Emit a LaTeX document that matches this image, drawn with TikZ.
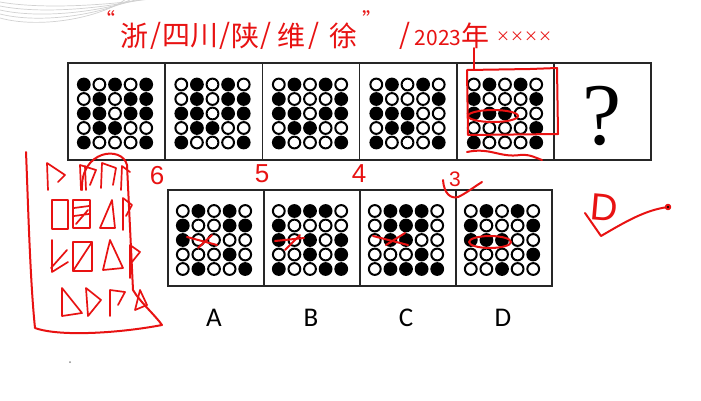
\documentclass[tikz,border=0pt]{standalone}
\usepackage{fontspec}
\usepackage{graphicx}
\setmainfont{Carlito}
\newfontfamily\cjk{Noto Sans CJK SC}
\newfontfamily\qfont{Liberation Serif}
\newfontfamily\hsans{Liberation Sans}
\definecolor{ink}{RGB}{232,18,18}
\newcommand\dotgrid[3]{%
  \foreach \rowlist [count=\r] in {#3}{%
    \foreach \v [count=\c] in \rowlist {%
      \ifnum\v=1
        \fill[black] (#1+\c*15.6-46.8, #2+\r*14.5-43.5) circle[radius=6.9pt];
      \else
        \draw[black,line width=2pt] (#1+\c*15.6-46.8, #2+\r*14.5-43.5) circle[radius=5.9pt];
      \fi
    }%
  }%
}
\tikzset{
  cell/.style={draw=black!85,line width=1.6pt,minimum width=97.2pt,minimum height=97pt,inner sep=0pt},
  cellb/.style={draw=black!85,line width=1.6pt,minimum width=96pt,minimum height=96pt,inner sep=0pt},
  optlabel/.style={font=\fontsize{27}{27}\selectfont,inner sep=0pt},
  ink/.style={draw=ink,line width=2pt,line cap=round,line join=round},
  thinink/.style={draw=ink,line width=1.7pt,line cap=round,line join=round},
  hw/.style={text=ink,inner sep=0pt,font=\cjk\fontsize{28}{28}\selectfont},
  hnum/.style={text=ink,inner sep=0pt,font=\hsans\fontsize{26}{26}\selectfont},
}
\begin{document}
\begin{tikzpicture}[x=1pt,y=-1pt]
\useasboundingbox (0,0) rectangle (701,400);
\fill[white] (0,0) rectangle (701,400);
% faint page-curl arcs
\foreach \k in {0,1,2,3,4}{
  \draw[black!18,line width=0.7pt] (0,2+\k*4) .. controls (40,9+\k*5) and (100,6+\k*3) .. (150-\k*6,-1);
}
\fill[black!45] (70,362) circle[radius=1pt];
% top row
\node[cell] (t1) at (116.6,111.5) {};
\node[cell] (t2) at (213.8,111.5) {};
\node[cell] (t3) at (311.0,111.5) {};
\node[cell] (t4) at (408.2,111.5) {};
\node[cell] (t5) at (505.4,111.5) {};
\node[cell] (t6) at (602.6,111.5) {};
\dotgrid{115}{113.5}{{1,0,1,0,1},{0,1,0,1,1},{1,1,0,1,1},{0,1,1,0,0},{1,0,0,0,1}}
\dotgrid{212.5}{113.5}{{0,1,0,1,0},{0,1,0,1,1},{1,1,0,1,1},{0,1,1,0,0},{1,0,0,0,1}}
\dotgrid{310}{113.5}{{0,1,0,1,0},{1,0,0,0,1},{1,1,0,1,1},{0,1,1,0,0},{1,0,0,0,1}}
\dotgrid{407.5}{113.5}{{0,1,0,1,0},{1,0,0,0,1},{1,1,1,0,0},{0,1,1,0,0},{1,0,0,0,1}}
\dotgrid{505}{113.5}{{0,1,0,1,0},{1,0,0,0,1},{1,1,1,0,0},{0,0,0,0,1},{1,0,0,0,1}}
\node[inner sep=0pt,font=\qfont\fontsize{88}{88}\selectfont] (qm) at (602,116) {?};
% options
\node[cellb] (oa) at (216,238) {};
\node[cellb] (ob) at (312,238) {};
\node[cellb] (oc) at (408,238) {};
\node[cellb] (od) at (504,238) {};
\dotgrid{214}{240}{{0,1,0,1,0},{1,0,0,1,1},{1,0,0,0,0},{0,0,0,1,0},{0,1,0,0,1}}
\dotgrid{310}{240}{{0,1,1,1,0},{1,0,0,0,0},{1,0,1,0,1},{0,0,1,0,1},{1,0,0,1,1}}
\dotgrid{406}{240}{{0,1,1,1,0},{0,1,1,1,0},{0,1,1,0,0},{0,0,0,1,0},{0,1,1,1,1}}
\dotgrid{502}{240}{{0,1,0,1,0},{1,0,0,0,1},{1,1,1,0,0},{0,0,0,0,1},{0,0,1,0,0}}
\node[optlabel] (la) at (214,318) {A};
\node[optlabel] (lb) at (311,318) {B};
\node[optlabel] (lc) at (406,318) {C};
\node[optlabel] (ld) at (503,318) {D};
% handwritten title
\node[hw,font=\cjk\fontsize{20}{20}\selectfont] (q1) at (105,19) {“};
\node[hw] (w1) at (134,36) {浙};
\node[hw] (s1) at (156,36) {/};
\node[hw] (w2) at (190,36) {四川};
\node[hw] (s2) at (225,36) {/};
\node[hw] (w3) at (245,36) {陕};
\node[hw] (s3) at (266,36) {/};
\node[hw] (w4) at (291,36) {维};
\node[hw] (s4) at (314,36) {/};
\node[hw] (w5) at (343,36) {徐};
\node[hw,font=\cjk\fontsize{20}{20}\selectfont] (q2) at (372,19) {”};
\node[hw] (s5) at (405,36) {/};
\node[hw,font=\cjk\fontsize{21}{21}\selectfont] (yr) at (438,38) {2023};
\node[hw] (w6) at (475,36) {年};
\node[hw,font=\cjk\fontsize{14}{14}\selectfont] (xs) at (524,37) {××××};
% line from 年 to the red frame
\coordinate (nianfoot) at (474,48);
\coordinate (frametop) at (474,69);
\draw[ink] (nianfoot) -- (frametop);
% red frame and marks on box 5
\draw[ink] (467,70) -- (530,69) -- (557,68) -- (558,134) -- (468,135) -- cycle;
\draw[ink] (493,116) ellipse[x radius=25pt,y radius=6pt];
\draw[ink] (467,152) .. controls (490,147) and (500,158) .. (520,155) .. controls (530,154) and (536,158) .. (542,160);
% numbers
\node[hnum] (n6) at (157,176) {6};
\node[hnum] (n5) at (262,174) {5};
\node[hnum] (n4) at (359,174) {4};
\node[hnum,font=\hsans\fontsize{21}{21}\selectfont] (n3) at (455,179) {3};
\draw[ink] (443,180) .. controls (444,194) and (451,199) .. (458,197) .. controls (465,194) and (474,187) .. (482,182);
% answer D with check
\node[hnum,font=\hsans\fontsize{38}{38}\selectfont,rotate=-5] (ans) at (604,208) {D};
\coordinate (ck1) at (585,213);
\coordinate (ck2) at (601,236);
\coordinate (ck3) at (668,207);
\draw[ink] (ck1) -- (ck2) .. controls (625,222) and (645,210) .. (ck3);
\fill[ink] (ck3) circle[radius=2.2pt];
% crosses on A, B, C; ellipse on D
\draw[ink] (187,237) -- (217,245);
\draw[ink] (198,248) -- (212,235);
\draw[ink] (275,241) -- (304,238);
\draw[ink] (285,250) -- (300,235);
\draw[ink] (373,236) -- (408,245);
\draw[ink] (386,245) -- (405,233);
\draw[ink] (490,242) ellipse[x radius=21pt,y radius=6pt];
% left side sketch
\draw[ink] (82,190) .. controls (80,150) and (122,145) .. (127,165) -- (133,290)
  .. controls (140,302) and (155,315) .. (162,325)
  .. controls (120,333) and (60,337) .. (35,328)
  .. controls (30,280) and (28,200) .. (26,152);
\draw[thinink] (48,190) -- (47,163) -- (65,175) -- (58,182);
\draw[thinink] (81,190) -- (80,165) -- (96,170) -- (90,185);
\draw[thinink] (85,166) -- (86,190);
\draw[thinink] (101,188) -- (102,163) -- (116,168) -- (113,185);
\draw[thinink] (121,190) -- (122,166) -- (130,172);
\draw[thinink] (52,200) rectangle (68,229);
\draw[thinink] (73,200) rectangle (90,228);
\draw[thinink] (74,208) -- (89,206) (74,216) -- (89,214) (76,224) -- (88,210);
\draw[thinink] (100,228) -- (112,200) -- (115,228) -- cycle;
\draw[thinink] (123,230) -- (123,198) -- (132,205) -- (126,216);
\draw[thinink] (52,240) -- (52,272) -- (68,262);
\draw[thinink] (51,268) -- (67,250);
\draw[thinink] (73,242) rectangle (92,271);
\draw[thinink] (73,271) -- (92,242);
\draw[thinink] (103,270) -- (110,240) -- (123,268) -- cycle;
\draw[thinink] (130,278) -- (130,245) -- (140,252) -- (132,262);
\draw[thinink] (62,288) -- (62,316) -- (82,313) -- cycle;
\draw[thinink] (86,288) -- (88,316) -- (101,300) -- cycle;
\draw[thinink] (110,316) -- (110,290) -- (125,292) -- (118,305);
\draw[thinink] (135,310) -- (140,290) -- (147,305) -- cycle;
\end{tikzpicture}
\end{document}
